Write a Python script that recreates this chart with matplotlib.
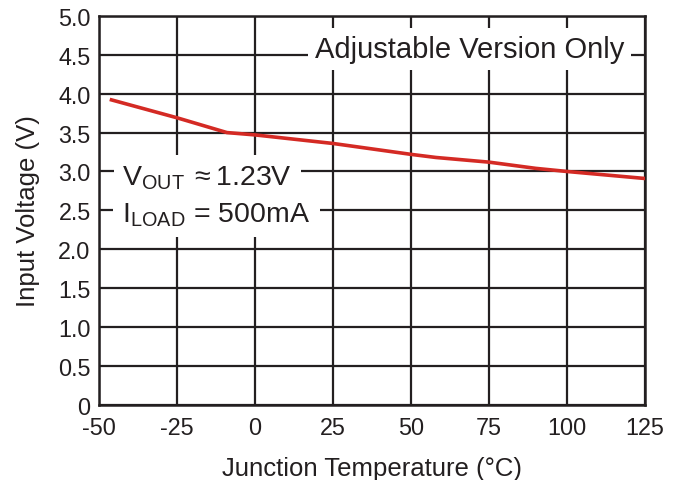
import matplotlib
matplotlib.use("Agg")
import matplotlib.pyplot as plt

plt.rcParams["font.family"] = ["Liberation Sans", "DejaVu Sans"]
plt.rcParams["mathtext.fontset"] = "custom"
plt.rcParams["mathtext.rm"] = "Liberation Sans"
plt.rcParams["mathtext.default"] = "regular"
plt.rcParams["axes.unicode_minus"] = False

# junction temperature (degC) vs minimum input voltage (V)
temp_c = [-46, -25, -9, 0, 25, 50, 58, 75, 90, 100, 125]
vin = [3.92, 3.69, 3.50, 3.47, 3.36, 3.22, 3.18, 3.12, 3.04, 3.00, 2.91]

x_ticks = [-50, -25, 0, 25, 50, 75, 100, 125]
y_ticks = [0, 0.5, 1.0, 1.5, 2.0, 2.5, 3.0, 3.5, 4.0, 4.5, 5.0]
y_tick_labels = ["0", "0.5", "1.0", "1.5", "2.0", "2.5", "3.0", "3.5", "4.0", "4.5", "5.0"]

ink = "#231f20"

fig = plt.figure(figsize=(6.8, 4.81), dpi=100)
ax = fig.add_axes([0.1456, 0.156, 0.803, 0.809])

ax.plot(temp_c, vin, color="#d42a24", lw=2.6, zorder=4)

ax.set_xlim(-50, 125)
ax.set_ylim(0, 5.0)
ax.set_xticks(x_ticks)
ax.set_yticks(y_ticks)
ax.set_yticklabels(y_tick_labels)
ax.tick_params(length=0, labelsize=16.8, colors=ink)
ax.tick_params(axis="y", pad=6)
ax.tick_params(axis="x", pad=8)
ax.grid(True, color=ink, lw=1.6)
for s in ax.spines.values():
    s.set_linewidth(1.8)
    s.set_color(ink)

ax.set_xlabel("Junction Temperature (°C)", fontsize=18.5, color=ink, labelpad=12)
ax.set_ylabel("Input Voltage (V)", fontsize=18.5, color=ink, labelpad=13)

ax.text(68.8, 4.58, "Adjustable Version Only", fontsize=21, color=ink,
        ha="center", va="center",
        bbox=dict(facecolor="white", edgecolor="none", pad=5), zorder=5)
ax.text(-42.5, 2.83, r"V$_{OUT}$$\,\approx$1.23V", fontsize=20.5, color=ink,
        ha="left", va="baseline",
        bbox=dict(facecolor="white", edgecolor="none", pad=6), zorder=5)
ax.text(-42.5, 2.36, r"I$_{LOAD}$ = 500mA", fontsize=20.5, color=ink,
        ha="left", va="baseline",
        bbox=dict(facecolor="white", edgecolor="none", pad=7), zorder=5)

fig.savefig("out.png", dpi=100)
